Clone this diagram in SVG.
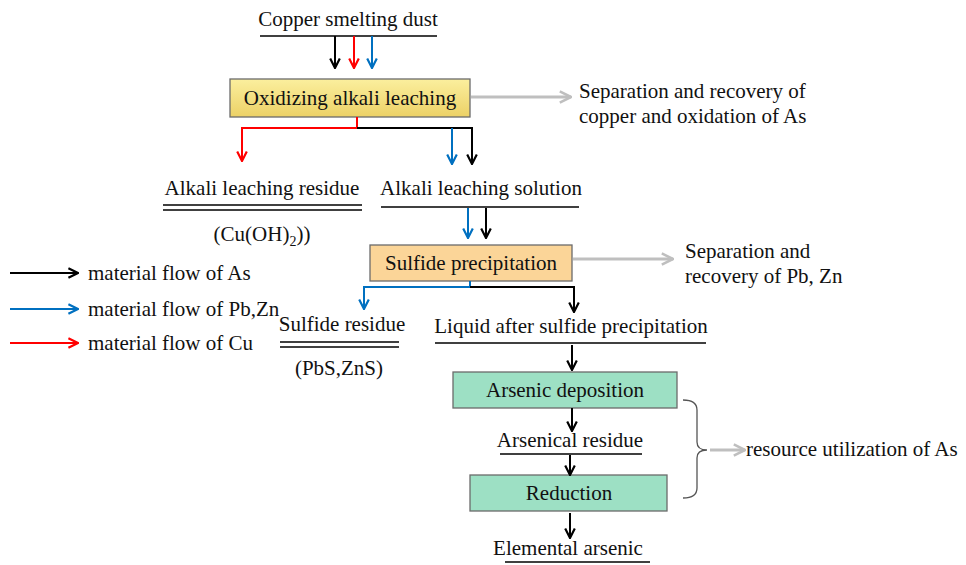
<svg xmlns="http://www.w3.org/2000/svg" width="966" height="565" viewBox="0 0 966 565">
<style>
text{font-family:"Liberation Serif","Times New Roman",serif;font-size:21px;fill:#111}
.c{text-anchor:middle}
.ln{stroke:#000;stroke-width:1.6;fill:none}
.k{stroke:#000;stroke-width:2;fill:none;marker-end:url(#mk)}
.r{stroke:#ff0000;stroke-width:2;fill:none;marker-end:url(#mr)}
.b{stroke:#0070c0;stroke-width:2;fill:none;marker-end:url(#mb)}
.g{stroke:#bfbfbf;stroke-width:3;fill:none;marker-end:url(#mg)}
.box{stroke:#6b6b6b;stroke-width:1.3}
</style>
<defs>
<linearGradient id="gy" x1="0" y1="0" x2="0" y2="1"><stop offset="0" stop-color="#fbef9e"/><stop offset="1" stop-color="#ecd166"/></linearGradient>
<marker id="mk" viewBox="0 0 10 10" refX="9" refY="5" markerWidth="12" markerHeight="12" markerUnits="userSpaceOnUse" orient="auto"><path d="M1,1 L9,5 L1,9" fill="none" stroke="#000" stroke-width="1.8"/></marker>
<marker id="mr" viewBox="0 0 10 10" refX="9" refY="5" markerWidth="12" markerHeight="12" markerUnits="userSpaceOnUse" orient="auto"><path d="M1,1 L9,5 L1,9" fill="none" stroke="#ff0000" stroke-width="1.8"/></marker>
<marker id="mb" viewBox="0 0 10 10" refX="9" refY="5" markerWidth="12" markerHeight="12" markerUnits="userSpaceOnUse" orient="auto"><path d="M1,1 L9,5 L1,9" fill="none" stroke="#0070c0" stroke-width="1.8"/></marker>
<marker id="mg" viewBox="0 0 10 10" refX="9" refY="5" markerWidth="14" markerHeight="14" markerUnits="userSpaceOnUse" orient="auto"><path d="M1,1 L9,5 L1,9" fill="none" stroke="#bfbfbf" stroke-width="1.8"/></marker>
</defs>

<g id="dust">
<text class="c" x="348" y="26">Copper smelting dust</text>
<line class="ln" x1="260" y1="36" x2="437" y2="36"/>
</g>
<g id="oxidizing">
<rect class="box" x="230" y="79" width="240" height="38" fill="url(#gy)"/>
<text class="c" x="350" y="105">Oxidizing alkali leaching</text>
</g>
<g id="sep1">
<text x="579" y="98">Separation and recovery of</text>
<text x="579" y="123">copper and oxidation of As</text>
</g>
<g id="residue1">
<text class="c" x="262" y="195">Alkali leaching residue</text>
<line class="ln" x1="163" y1="205" x2="362" y2="205"/>
<line class="ln" x1="163" y1="210" x2="362" y2="210"/>
<text class="c" x="262" y="241">(Cu(OH)<tspan font-size="14" dy="5">2</tspan><tspan dy="-5">))</tspan></text>
</g>
<g id="solution">
<text class="c" x="481" y="195">Alkali leaching solution</text>
<line class="ln" x1="381" y1="207" x2="579" y2="207"/>
</g>
<g id="sulfide">
<rect class="box" x="370" y="245" width="202" height="36" fill="#fbd598"/>
<text class="c" x="471" y="270">Sulfide precipitation</text>
</g>
<g id="sep2">
<text x="685" y="258">Separation and</text>
<text x="685" y="283">recovery of Pb, Zn</text>
</g>
<g id="legend">
<line class="k" x1="10" y1="273" x2="78" y2="273"/>
<text x="88" y="280">material flow of As</text>
<line class="b" x1="10" y1="309" x2="78" y2="309"/>
<text x="88" y="316">material flow of Pb,Zn</text>
<line class="r" x1="10" y1="343" x2="78" y2="343"/>
<text x="88" y="350">material flow of Cu</text>
</g>
<g id="residue2">
<text class="c" x="342" y="331">Sulfide residue</text>
<line class="ln" x1="280" y1="342" x2="399" y2="342"/>
<line class="ln" x1="280" y1="347" x2="399" y2="347"/>
<text class="c" x="339" y="375">(PbS,ZnS)</text>
</g>
<g id="liquid">
<text class="c" x="571" y="333">Liquid after sulfide precipitation</text>
<line class="ln" x1="435" y1="343" x2="706" y2="343"/>
</g>
<g id="deposition">
<rect class="box" x="453" y="372" width="224" height="36" fill="#9de0c4"/>
<text class="c" x="565" y="397">Arsenic deposition</text>
</g>
<g id="arsenical">
<text class="c" x="570" y="447">Arsenical residue</text>
<line class="ln" x1="500" y1="454" x2="642" y2="454"/>
</g>
<g id="reduction">
<rect class="box" x="470" y="475" width="197" height="36" fill="#9de0c4"/>
<text class="c" x="569" y="500">Reduction</text>
</g>
<g id="elemental">
<text class="c" x="568" y="555">Elemental arsenic</text>
<line class="ln" x1="505" y1="562" x2="650" y2="562"/>
</g>
<g id="utilization">
<path d="M683,400 Q697,400 697,410 L697,442 Q697,450 707,450 Q697,450 697,458 L697,488 Q697,498 683,498" fill="none" stroke="#555" stroke-width="1.3"/>
<text x="746" y="456">resource utilization of As</text>
</g>

<g id="connectors">
<line class="k" x1="335" y1="36" x2="335" y2="68"/>
<line class="r" x1="354" y1="36" x2="354" y2="68"/>
<line class="b" x1="372" y1="36" x2="372" y2="68"/>
<line class="g" x1="471" y1="97" x2="571" y2="97"/>
<polyline class="r" points="357,117 357,128 242,128 242,161"/>
<polyline class="k" points="357,128 472,128 472,164"/>
<polyline class="b" points="452,128 452,164"/>
<line class="b" x1="468" y1="208" x2="468" y2="238"/>
<line class="k" x1="486" y1="208" x2="486" y2="238"/>
<line class="g" x1="573" y1="259" x2="673" y2="259"/>
<polyline class="b" points="470,281 470,287 364,287 364,309"/>
<polyline class="k" points="470,287 574,287 574,312"/>
<line class="k" x1="572" y1="345" x2="572" y2="370"/>
<line class="k" x1="572" y1="408" x2="572" y2="431"/>
<line class="k" x1="570" y1="455" x2="570" y2="475"/>
<line class="k" x1="570" y1="513" x2="570" y2="538"/>
<line class="g" x1="710" y1="450" x2="745" y2="450"/>
</g>
</svg>
